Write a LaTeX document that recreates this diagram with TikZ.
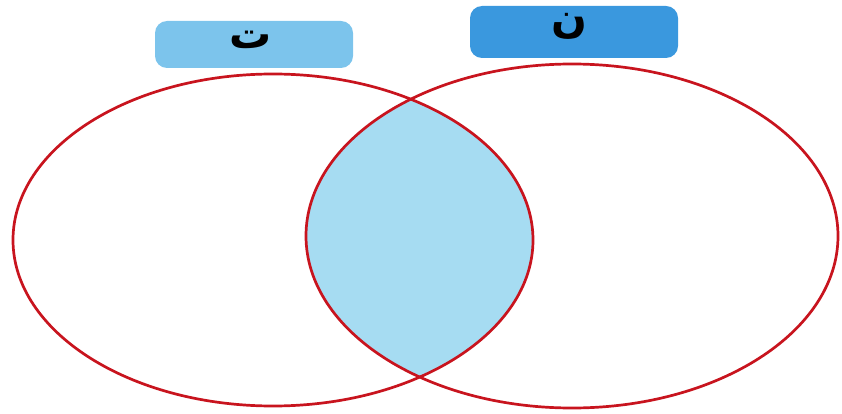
\documentclass[tikz,border=0pt]{standalone}
\usepackage{fontspec}
\newfontfamily\arabicfont[Script=Arabic]{DejaVu Sans}
\TeXXeTstate=1
\definecolor{vennred}{HTML}{C8141E}
\definecolor{lensblue}{HTML}{A6DCF2}
\definecolor{lightlabel}{HTML}{7CC4EC}
\definecolor{darklabel}{HTML}{3A98DE}
\begin{document}
\begin{tikzpicture}[x=1pt,y=-1pt,
  setline/.style={draw=vennred,line width=2.7pt},
  labelbox/.style={inner sep=0pt,
    font=\arabicfont\bfseries\fontsize{42}{42}\selectfont}]
\useasboundingbox (0,0) rectangle (842,414);
% intersection
\begin{scope}
  \clip (273,240) ellipse [x radius=260,y radius=166];
  \fill[lensblue] (572,236) ellipse [x radius=266,y radius=172];
\end{scope}
% sets
\draw[setline] (273,240) ellipse [x radius=260,y radius=166];
\draw[setline] (572,236) ellipse [x radius=266,y radius=172];
% labels
\fill[lightlabel,rounded corners=12pt] (155,21) rectangle (353,68);
\node[labelbox] (labT) at (251,40) {\beginR ت\endR};
\fill[darklabel,rounded corners=12pt] (470,6) rectangle (678,58);
\node[labelbox] (labN) at (569,26) {\beginR ن\endR};
\end{tikzpicture}
\end{document}
